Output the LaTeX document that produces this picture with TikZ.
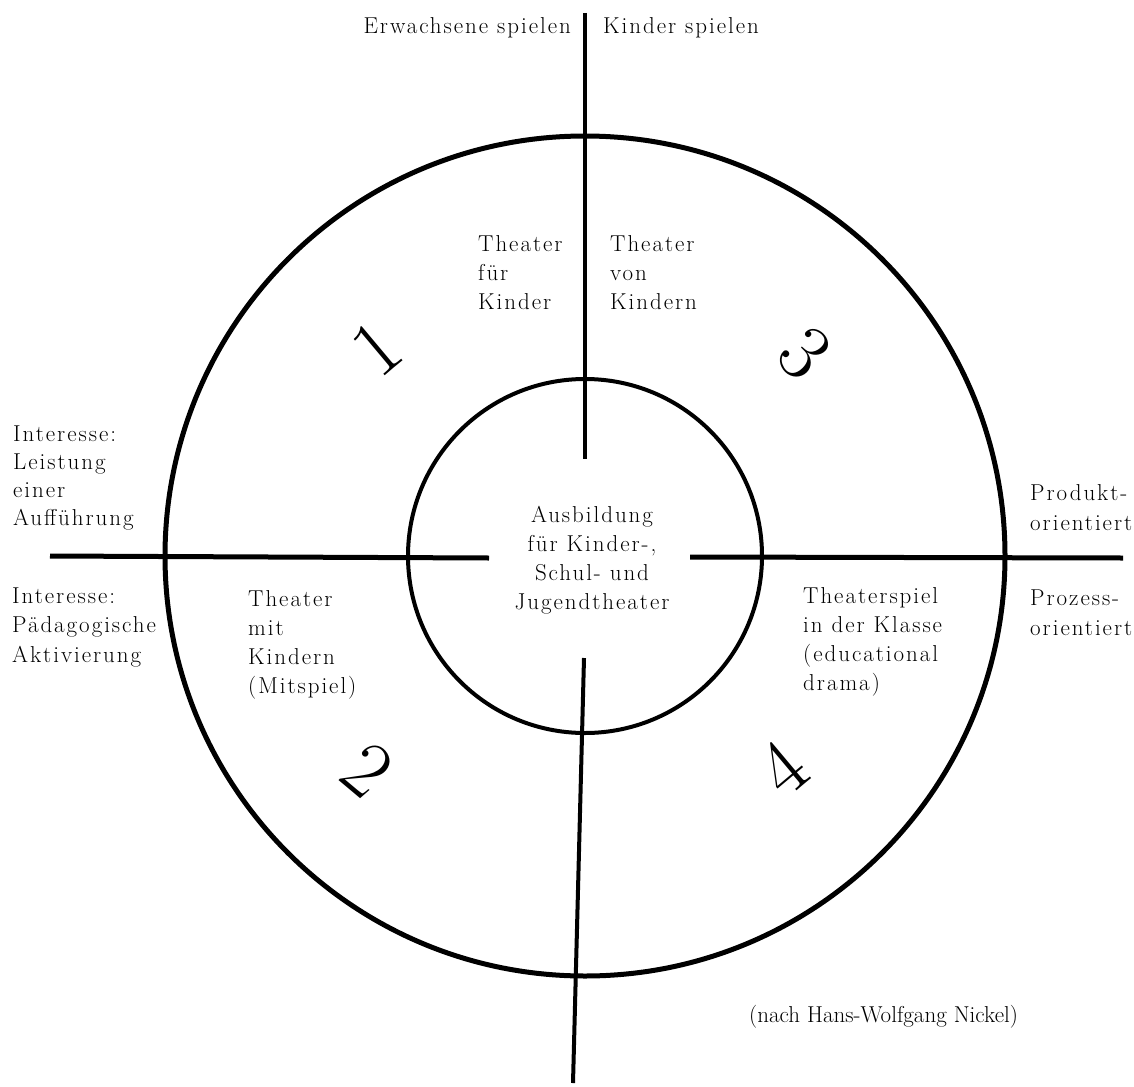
\documentclass[tikz,border=0pt]{standalone}
\usepackage{fontspec}
\newfontfamily\trackedfont{Latin Modern Roman}[LetterSpace=8.5]
\newcommand{\mylinesl}[1]{\begin{tabular}[t]{@{}l@{}}#1\end{tabular}}
\newcommand{\mylinesc}[1]{\begin{tabular}[t]{@{}c@{}}#1\end{tabular}}
\begin{document}
\begin{tikzpicture}[x=1pt,y=-1pt,
  ring/.style={draw, circle, inner sep=0pt},
  axis/.style={line width=4pt},
  lbl/.style={inner sep=0pt, anchor=base west, font=\trackedfont\fontsize{23}{29}\selectfont},
  digit/.style={inner sep=0pt, font=\fontsize{80}{90}\selectfont}]
\useasboundingbox[fill=white] (0,0) rectangle (1134,1086);
\node[ring, minimum size=840pt, line width=5pt] (outer) at (585,556) {};
\node[ring, minimum size=354pt, line width=4pt] (inner) at (585,556) {};
\coordinate (vt1) at (585,13);  \coordinate (vt2) at (585,459);
\coordinate (vb1) at (584,658); \coordinate (vb2) at (573,1083);
\coordinate (hl1) at (50,556);  \coordinate (hl2) at (489,558);
\coordinate (hr1) at (690,557); \coordinate (hr2) at (1123,558);
\draw[axis] (vt1) -- (vt2);
\draw[axis] (vb1) -- (vb2);
\draw[axis, line width=5pt] (hl1) -- (hl2);
\draw[axis, line width=5pt] (hr1) -- (hr2);
% top labels
\node[lbl, anchor=base east] (erw) at (571,34) {Erwachsene spielen};
\node[lbl] (kin) at (603,34) {Kinder spielen};
% quadrant texts
\node[lbl] (tfk) at (478,251) {\mylinesl{Theater\\für\\Kinder}};
\node[lbl] (tvk) at (610,251) {\mylinesl{Theater\\von\\Kindern}};
\node[lbl] (tmk) at (248,606) {\mylinesl{Theater\\mit\\Kindern\\(Mitspiel)}};
\node[lbl] (tik) at (803,603) {\mylinesl{Theaterspiel\\in der Klasse\\(educational\\drama)}};
\node[lbl, anchor=base] (aus) at (592,522) {\mylinesc{Ausbildung\\für Kinder-,\\Schul- und\\Jugendtheater}};
% side labels
\node[lbl, font=\trackedfont\fontsize{23}{28.3}\selectfont] (il) at (13,441) {\mylinesl{Interesse:\\Leistung\\einer\\Aufführung}};
\node[lbl, font=\trackedfont\fontsize{23}{29.5}\selectfont] (ip) at (12,603) {\mylinesl{Interesse:\\Pädagogische\\Aktivierung}};
\node[lbl, font=\trackedfont\fontsize{23}{30}\selectfont] (prd) at (1030,500) {\mylinesl{Produkt-\\orientiert}};
\node[lbl, font=\trackedfont\fontsize{23}{30}\selectfont] (prz) at (1030,605) {\mylinesl{Prozess-\\orientiert}};
\node[lbl, font=\rmfamily\fontsize{23}{29}\selectfont] (src) at (749,1022) {(nach Hans-Wolfgang Nickel)};
% quadrant numbers
\node[digit, rotate=40]  (n1) at (377,348) {1};
\node[digit, rotate=-40] (n2) at (368,770) {2};
\node[digit, rotate=-45] (n3) at (805,353) {3};
\node[digit, rotate=40]  (n4) at (782,768) {4};
\end{tikzpicture}
\end{document}
